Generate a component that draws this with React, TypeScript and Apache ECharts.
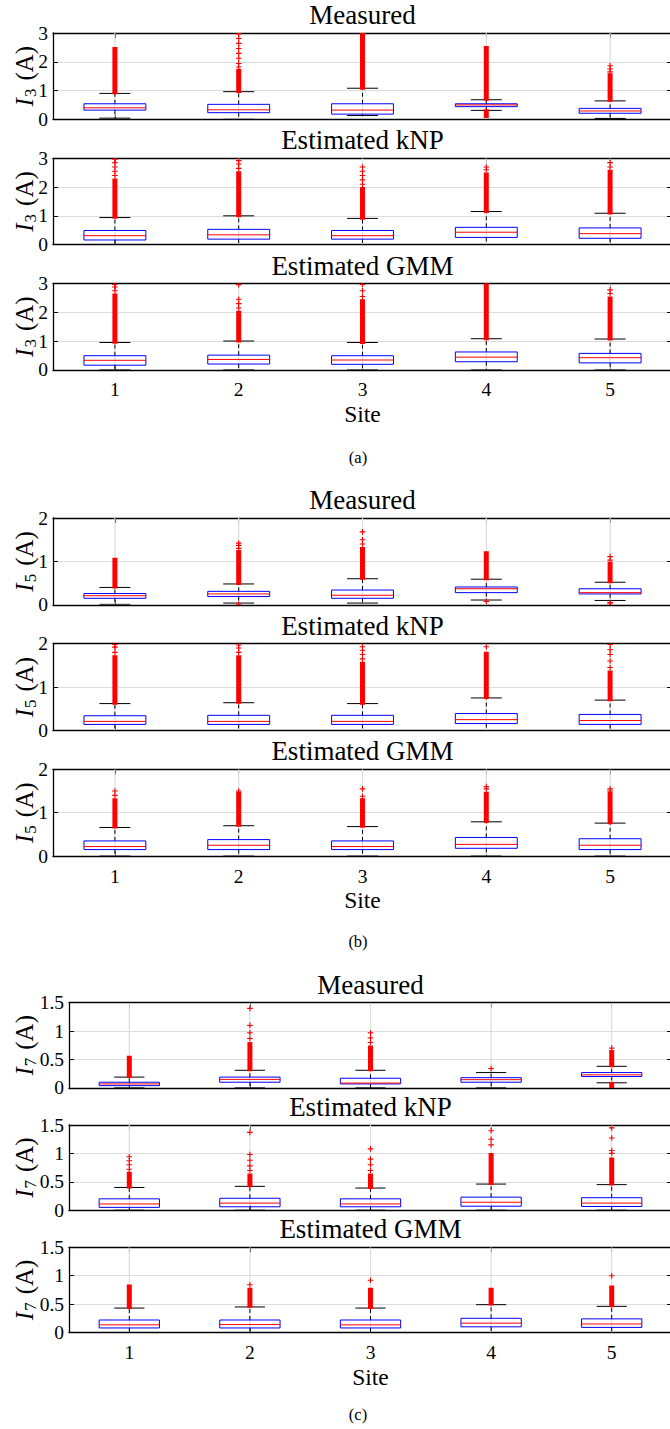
import React, { useEffect, useRef } from "react";
import * as echarts from "echarts";

const FONT = "'Liberation Serif', 'Times New Roman', serif";
const SITES = ["1", "2", "3", "4", "5"];

// Box statistics per site: [lower whisker, Q1, median, Q3, upper whisker]
// Dense outlier runs per site: [from, to]; sparse outliers: [site, value]

// ---- I3 ----
const I3_MEASURED = [
  [0.04, 0.32, 0.4, 0.54, 0.9],
  [0.0, 0.23, 0.33, 0.52, 0.96],
  [0.13, 0.18, 0.32, 0.54, 1.08],
  [0.31, 0.44, 0.5, 0.54, 0.68],
  [0.03, 0.21, 0.29, 0.38, 0.64],
];
const I3_MEASURED_RUNS = [[0.92, 2.46], [0.97, 1.7], [1.08, 3.0], [0.7, 2.5], [0.66, 1.55]];
const I3_MEASURED_LOW_RUNS = [null, null, null, [0.1, 0.3], null];
const I3_MEASURED_OUTLIERS = [
  [2, 1.82], [2, 1.94], [2, 2.12], [2, 2.29], [2, 2.46], [2, 2.64], [2, 2.81], [2, 2.97],
  [5, 1.65], [5, 1.75], [5, 1.86],
];

const I3_KNP = [
  [0.0, 0.16, 0.31, 0.49, 0.94],
  [0.0, 0.19, 0.34, 0.53, 1.0],
  [0.0, 0.19, 0.31, 0.49, 0.91],
  [0.0, 0.25, 0.43, 0.6, 1.15],
  [0.0, 0.22, 0.38, 0.58, 1.09],
];
const I3_KNP_RUNS = [[0.95, 2.25], [1.0, 2.5], [0.92, 1.95], [1.15, 2.45], [1.1, 2.55]];
const I3_KNP_OUTLIERS = [
  [1, 2.4], [1, 2.55], [1, 2.7], [1, 2.85], [1, 2.97],
  [2, 2.65], [2, 2.8], [2, 2.92],
  [3, 2.1], [3, 2.25], [3, 2.4], [3, 2.55], [3, 2.7],
  [4, 2.6], [4, 2.7],
  [5, 2.7], [5, 2.85],
];

const I3_GMM = [
  [0.0, 0.16, 0.33, 0.49, 0.95],
  [0.0, 0.2, 0.36, 0.51, 1.0],
  [0.0, 0.19, 0.34, 0.49, 0.95],
  [0.0, 0.28, 0.44, 0.62, 1.08],
  [0.0, 0.24, 0.42, 0.57, 1.07],
];
const I3_GMM_RUNS = [[0.96, 2.6], [1.0, 2.0], [0.95, 2.4], [1.08, 2.97], [1.07, 2.5]];
const I3_GMM_OUTLIERS = [
  [1, 2.75], [1, 2.88], [1, 2.97],
  [2, 2.15], [2, 2.3], [2, 2.45], [2, 2.96],
  [3, 2.55], [3, 2.75], [3, 2.97],
  [5, 2.65], [5, 2.78],
];

// ---- I5 ----
const I5_MEASURED = [
  [0.01, 0.15, 0.21, 0.26, 0.4],
  [0.04, 0.19, 0.25, 0.31, 0.48],
  [0.04, 0.15, 0.22, 0.34, 0.6],
  [0.11, 0.28, 0.37, 0.41, 0.59],
  [0.1, 0.25, 0.28, 0.37, 0.52],
];
const I5_MEASURED_RUNS = [[0.41, 1.05], [0.49, 1.23], [0.61, 1.3], [0.6, 1.2], [0.53, 0.96]];
const I5_MEASURED_OUTLIERS = [
  [2, 1.3], [2, 1.37], [2, 1.42], [2, 0.01],
  [3, 1.4], [3, 1.5], [3, 1.68],
  [4, 0.08],
  [5, 1.03], [5, 1.11], [5, 0.02], [5, 0.05],
];

const I5_KNP = [
  [0.0, 0.14, 0.21, 0.34, 0.62],
  [0.0, 0.14, 0.21, 0.35, 0.64],
  [0.0, 0.14, 0.21, 0.35, 0.62],
  [0.0, 0.16, 0.25, 0.39, 0.75],
  [0.0, 0.14, 0.23, 0.37, 0.7],
];
const I5_KNP_RUNS = [[0.63, 1.7], [0.65, 1.7], [0.63, 1.55], [0.76, 1.78], [0.71, 1.35]];
const I5_KNP_OUTLIERS = [
  [1, 1.8], [1, 1.92], [1, 1.98],
  [2, 1.8], [2, 1.9], [2, 1.97],
  [3, 1.65], [3, 1.75], [3, 1.85], [3, 1.93],
  [4, 1.93],
  [5, 1.45], [5, 1.6], [5, 1.75], [5, 1.86], [5, 1.98],
];

const I5_GMM = [
  [0.0, 0.15, 0.22, 0.35, 0.66],
  [0.0, 0.15, 0.25, 0.38, 0.7],
  [0.0, 0.15, 0.22, 0.35, 0.68],
  [0.0, 0.18, 0.27, 0.43, 0.79],
  [0.0, 0.15, 0.25, 0.4, 0.76],
];
const I5_GMM_RUNS = [[0.67, 1.3], [0.71, 1.45], [0.69, 1.3], [0.8, 1.45], [0.77, 1.45]];
const I5_GMM_OUTLIERS = [
  [1, 1.4], [1, 1.5],
  [2, 1.5],
  [3, 1.38], [3, 1.55],
  [4, 1.55], [4, 1.6],
  [5, 1.5], [5, 1.55],
];

// ---- I7 ----
const I7_MEASURED = [
  [0.0, 0.04, 0.07, 0.1, 0.19],
  [0.0, 0.1, 0.15, 0.19, 0.31],
  [0.0, 0.07, 0.085, 0.17, 0.31],
  [0.0, 0.1, 0.145, 0.18, 0.27],
  [0.09, 0.2, 0.23, 0.27, 0.38],
];
const I7_MEASURED_RUNS = [[0.2, 0.54], [0.32, 0.78], [0.32, 0.72], null, [0.39, 0.64]];
const I7_MEASURED_LOW_RUNS = [null, null, null, null, [0.0, 0.08]];
const I7_MEASURED_OUTLIERS = [
  [2, 0.87], [2, 0.97], [2, 1.1], [2, 1.4],
  [3, 0.8], [3, 0.88], [3, 0.97],
  [4, 0.34],
  [5, 0.7],
];

const I7_KNP = [
  [0.0, 0.05, 0.11, 0.2, 0.4],
  [0.0, 0.06, 0.125, 0.21, 0.42],
  [0.0, 0.06, 0.11, 0.2, 0.39],
  [0.0, 0.07, 0.14, 0.23, 0.46],
  [0.0, 0.065, 0.125, 0.22, 0.45],
];
const I7_KNP_RUNS = [[0.41, 0.65], [0.43, 0.62], [0.4, 0.62], [0.47, 0.98], [0.46, 0.9]];
const I7_KNP_OUTLIERS = [
  [1, 0.72], [1, 0.8], [1, 0.87], [1, 0.94],
  [2, 0.7], [2, 0.78], [2, 0.88], [2, 0.98], [2, 1.37],
  [3, 0.7], [3, 0.8], [3, 0.9], [3, 1.08],
  [4, 1.15], [4, 1.25], [4, 1.4],
  [5, 1.0], [5, 1.05], [5, 1.27], [5, 1.45],
];

const I7_GMM = [
  [0.0, 0.08, 0.135, 0.22, 0.43],
  [0.0, 0.08, 0.14, 0.22, 0.45],
  [0.0, 0.08, 0.135, 0.22, 0.43],
  [0.0, 0.1, 0.165, 0.25, 0.49],
  [0.0, 0.09, 0.15, 0.24, 0.46],
];
const I7_GMM_RUNS = [[0.44, 0.82], [0.46, 0.76], [0.44, 0.76], [0.5, 0.76], [0.47, 0.8]];
const I7_GMM_OUTLIERS = [[2, 0.84], [3, 0.92], [5, 1.0]];

// Figure layout: three stacked groups, each with three panels
const GROUPS = [
  { harmonic: "3", yMax: 3, yStep: 1, left: 53, tops: [33, 158.3, 283.5], height: 86.3, caption: "(a)", captionY: 457.5 },
  { harmonic: "5", yMax: 2, yStep: 1, left: 53, tops: [518, 643.7, 769.3], height: 86.8, caption: "(b)", captionY: 941 },
  { harmonic: "7", yMax: 1.5, yStep: 0.5, left: 69, tops: [1002.7, 1125, 1247.3], height: 85.2, caption: "(c)", captionY: 1414 },
];

const PANEL_DATA = [
  [
    { title: "Measured", stats: I3_MEASURED, runs: I3_MEASURED_RUNS, lowRuns: I3_MEASURED_LOW_RUNS, outliers: I3_MEASURED_OUTLIERS },
    { title: "Estimated kNP", stats: I3_KNP, runs: I3_KNP_RUNS, lowRuns: null, outliers: I3_KNP_OUTLIERS },
    { title: "Estimated GMM", stats: I3_GMM, runs: I3_GMM_RUNS, lowRuns: null, outliers: I3_GMM_OUTLIERS },
  ],
  [
    { title: "Measured", stats: I5_MEASURED, runs: I5_MEASURED_RUNS, lowRuns: null, outliers: I5_MEASURED_OUTLIERS },
    { title: "Estimated kNP", stats: I5_KNP, runs: I5_KNP_RUNS, lowRuns: null, outliers: I5_KNP_OUTLIERS },
    { title: "Estimated GMM", stats: I5_GMM, runs: I5_GMM_RUNS, lowRuns: null, outliers: I5_GMM_OUTLIERS },
  ],
  [
    { title: "Measured", stats: I7_MEASURED, runs: I7_MEASURED_RUNS, lowRuns: I7_MEASURED_LOW_RUNS, outliers: I7_MEASURED_OUTLIERS },
    { title: "Estimated kNP", stats: I7_KNP, runs: I7_KNP_RUNS, lowRuns: null, outliers: I7_KNP_OUTLIERS },
    { title: "Estimated GMM", stats: I7_GMM, runs: I7_GMM_RUNS, lowRuns: null, outliers: I7_GMM_OUTLIERS },
  ],
];

const CHART_W = 672;
const CHART_H = 1429;
const GRID_COLOR = "#dcdcdc";
const BLUE = "#0000ff";
const RED = "#ff0000";

function boxRenderer(runs: any, lowRuns: any, yMax: number) {
  return (params: any, api: any) => {
    const k = params.dataIndex;
    const cat = api.value(0);
    const lo = api.value(1);
    const q1 = api.value(2);
    const med = api.value(3);
    const q3 = api.value(4);
    const hi = api.value(5);
    const Y = (v: number) => api.coord([cat, v])[1];
    const x = api.coord([cat, med])[0];
    const band = api.size([1, 0])[0];
    const boxW = band * 0.5;
    const capW = boxW * 0.5;
    const children: any[] = [];
    // vertical grid line at the site
    children.push({
      type: "line",
      shape: { x1: x, y1: Y(0), x2: x, y2: Y(yMax) },
      style: { stroke: GRID_COLOR, lineWidth: 1.2 },
    });
    const dash = { stroke: "#000", lineWidth: 1, lineDash: [4, 3] };
    children.push({ type: "line", shape: { x1: x, y1: Y(q3), x2: x, y2: Y(hi) }, style: dash });
    children.push({ type: "line", shape: { x1: x, y1: Y(q1), x2: x, y2: Y(lo) }, style: dash });
    const cap = { stroke: "#000", lineWidth: 1 };
    children.push({ type: "line", shape: { x1: x - capW / 2, y1: Y(hi), x2: x + capW / 2, y2: Y(hi) }, style: cap });
    children.push({ type: "line", shape: { x1: x - capW / 2, y1: Y(lo), x2: x + capW / 2, y2: Y(lo) }, style: cap });
    children.push({
      type: "rect",
      shape: { x: x - boxW / 2, y: Y(q3), width: boxW, height: Y(q1) - Y(q3) },
      style: { fill: "none", stroke: BLUE, lineWidth: 1 },
    });
    children.push({
      type: "line",
      shape: { x1: x - boxW / 2, y1: Y(med), x2: x + boxW / 2, y2: Y(med) },
      style: { stroke: RED, lineWidth: 1 },
    });
    const addRun = (r: any) => {
      if (!r) return;
      const top = Y(r[1]) - 1.5;
      const bot = Y(r[0]) + 1.5;
      children.push({
        type: "rect",
        shape: { x: x - 2.5, y: top, width: 5, height: bot - top },
        style: { fill: RED },
      });
    };
    addRun(runs && runs[k]);
    addRun(lowRuns && lowRuns[k]);
    return { type: "group", children };
  };
}

function plusRenderer(params: any, api: any) {
  const p = api.coord([api.value(0), api.value(1)]);
  const s = 2.8;
  const st = { stroke: RED, lineWidth: 1.1 };
  return {
    type: "group",
    children: [
      { type: "line", shape: { x1: p[0] - s, y1: p[1], x2: p[0] + s, y2: p[1] }, style: st },
      { type: "line", shape: { x1: p[0], y1: p[1] - s, x2: p[0], y2: p[1] + s }, style: st },
    ],
  };
}

function buildOption() {
  const grid: any[] = [];
  const xAxis: any[] = [];
  const yAxis: any[] = [];
  const series: any[] = [];
  const graphic: any[] = [];

  GROUPS.forEach((g, gi) => {
    g.tops.forEach((top, pi) => {
      const idx = grid.length;
      const panel = PANEL_DATA[gi][pi];
      const isBottom = pi === 2;
      grid.push({
        left: g.left,
        right: 0,
        top,
        height: g.height,
        containLabel: false,
        outerBoundsMode: "none",
      });
      const axisLine = { show: true, onZero: false, lineStyle: { color: "#000", width: 1.3 } };
      const tick = { show: true, inside: true, length: 5, lineStyle: { color: "#000", width: 1 } };
      xAxis.push({
        gridIndex: idx,
        type: "category",
        data: SITES,
        position: "bottom",
        axisLine,
        axisTick: { ...tick, alignWithLabel: true },
        axisLabel: {
          show: isBottom,
          margin: 10,
          fontFamily: FONT,
          fontSize: 19.5,
          color: "#000",
        },
        splitLine: { show: false },
        name: isBottom ? "Site" : "",
        nameLocation: "middle",
        nameGap: 32,
        nameMoveOverlap: false,
        nameTextStyle: { fontFamily: FONT, fontSize: 23.5, color: "#000" },
      });
      xAxis.push({
        gridIndex: idx,
        type: "category",
        data: SITES,
        position: "top",
        axisLine,
        axisTick: { ...tick, alignWithLabel: true },
        axisLabel: { show: false },
        splitLine: { show: false },
      });
      yAxis.push({
        gridIndex: idx,
        type: "value",
        min: 0,
        max: g.yMax,
        interval: g.yStep,
        position: "left",
        axisLine,
        axisTick: tick,
        axisLabel: { margin: 5, fontFamily: FONT, fontSize: 19.5, color: "#000" },
        splitLine: { show: true, lineStyle: { color: GRID_COLOR, width: 1.2 } },
        name: `{i|I}{s|${g.harmonic}}{t|(A)}`,
        nameLocation: "middle",
        nameRotate: 90,
        nameGap: g.left - 39,
        nameMoveOverlap: false,
        nameTextStyle: {
          color: "#000",
          rich: {
            i: { fontFamily: FONT, fontStyle: "italic", fontSize: 25, color: "#000" },
            s: { fontFamily: FONT, fontSize: 17, color: "#000", padding: [12, 0, 0, 1] },
            t: { fontFamily: FONT, fontSize: 25, color: "#000", padding: [0, 0, 0, 8] },
          },
        },
      });
      yAxis.push({
        gridIndex: idx,
        type: "value",
        min: 0,
        max: g.yMax,
        interval: g.yStep,
        position: "right",
        axisLine,
        axisTick: tick,
        axisLabel: { show: false },
        splitLine: { show: false },
      });

      const xi = idx * 2;
      const yi = idx * 2;
      series.push({
        type: "custom",
        xAxisIndex: xi,
        yAxisIndex: yi,
        clip: true,
        renderItem: boxRenderer(panel.runs, panel.lowRuns, g.yMax),
        encode: { x: 0, y: [1, 2, 3, 4, 5] },
        data: panel.stats.map((r, i) => [i, ...r]),
        z: 2,
      });
      series.push({
        type: "custom",
        xAxisIndex: xi,
        yAxisIndex: yi,
        clip: true,
        renderItem: plusRenderer,
        encode: { x: 0, y: 1 },
        data: panel.outliers.map(([site, v]) => [site - 1, v]),
        z: 3,
      });

      const cx = (g.left + CHART_W) / 2;
      graphic.push({
        type: "text",
        x: cx,
        y: top - 18,
        style: {
          text: panel.title,
          fontFamily: FONT,
          fontSize: 27,
          fill: "#000",
          align: "center",
          verticalAlign: "middle",
        },
      });
    });
    graphic.push({
      type: "text",
      x: 358,
      y: g.captionY,
      style: {
        text: g.caption,
        fontFamily: FONT,
        fontSize: 16.5,
        fill: "#000",
        align: "center",
        verticalAlign: "middle",
      },
    });
  });

  return {
    animation: false,
    backgroundColor: "#fff",
    grid,
    xAxis,
    yAxis,
    series,
    graphic,
  };
}

export default function App() {
  const ref = useRef<HTMLDivElement>(null);
  useEffect(() => {
    if (!ref.current) return;
    const chart = echarts.init(ref.current, undefined, { renderer: "svg" });
    chart.setOption(buildOption() as any);
    return () => chart.dispose();
  }, []);
  return (
    <div style={{ position: "absolute", left: 0, top: 0, width: 670, height: CHART_H, overflow: "hidden", background: "#fff" }}>
      <div ref={ref} style={{ width: CHART_W, height: CHART_H }} />
    </div>
  );
}
